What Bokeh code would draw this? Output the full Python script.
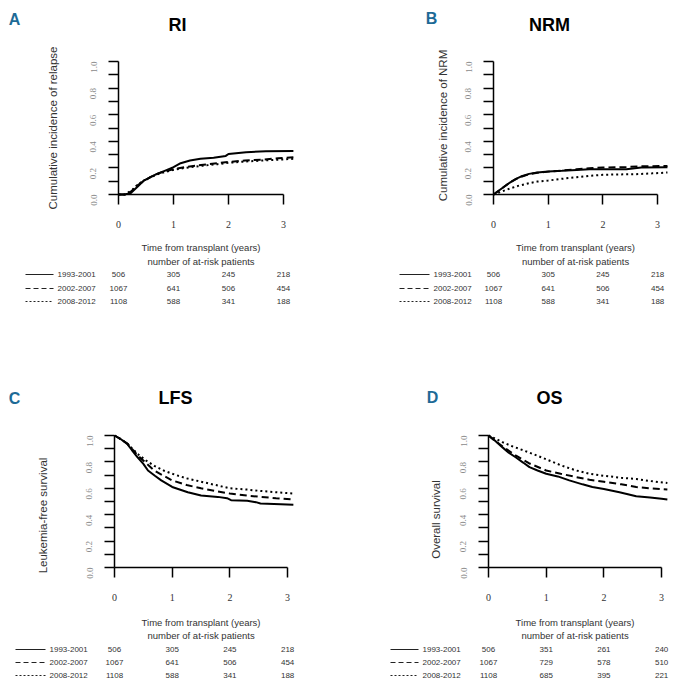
from math import pi
from bokeh.plotting import figure
from bokeh.models import Range1d, FixedTicker, Label, PrintfTickFormatter, ColumnDataSource
from bokeh.core.properties import value
from bokeh.layouts import column, row
from bokeh.embed import file_html
from bokeh.resources import INLINE

# ---------------- data ----------------
periods = ["1993-2001", "2002-2007", "2008-2012"]
x_ticks = [0, 1, 2, 3]
y_ticks = [0.0, 0.2, 0.4, 0.6, 0.8, 1.0]
y_minor = [0.1, 0.3, 0.5, 0.7, 0.9]

# RI: cumulative incidence of relapse
ri_t_1 = [0, 0.1, 0.22, 0.35, 0.46, 0.58, 0.70, 0.85, 1.0, 1.13, 1.3, 1.49, 1.73, 1.95, 2.0, 2.32, 2.68, 3.18]
ri_v_1 = [0, 0, 0.01, 0.06, 0.105, 0.13, 0.155, 0.18, 0.205, 0.235, 0.255, 0.268, 0.276, 0.29, 0.305, 0.318, 0.325, 0.327]
ri_t_2 = [0, 0.15, 0.25, 0.35, 0.46, 0.58, 0.70, 0.85, 1.0, 1.2, 1.5, 1.8, 2.0, 2.3, 2.6, 2.9, 3.18]
ri_v_2 = [0, 0, 0.03, 0.07, 0.1, 0.13, 0.155, 0.175, 0.19, 0.205, 0.222, 0.235, 0.245, 0.255, 0.262, 0.272, 0.28]
ri_t_3 = [0, 0.12, 0.25, 0.35, 0.46, 0.58, 0.70, 0.85, 1.0, 1.2, 1.5, 1.8, 2.0, 2.3, 2.6, 2.9, 3.18]
ri_v_3 = [0, 0, 0.035, 0.075, 0.105, 0.13, 0.15, 0.17, 0.185, 0.2, 0.215, 0.228, 0.238, 0.248, 0.255, 0.262, 0.268]

# NRM: cumulative incidence of non-relapse mortality
nrm_t_1 = [0, 0.1, 0.2, 0.3, 0.41, 0.5, 0.65, 0.8, 1.0, 1.25, 1.52, 1.75, 2.0, 2.43, 2.7, 3.18]
nrm_v_1 = [0, 0.03, 0.06, 0.09, 0.118, 0.135, 0.155, 0.165, 0.173, 0.178, 0.185, 0.19, 0.19, 0.19, 0.203, 0.205]
nrm_t_2 = [0, 0.1, 0.2, 0.3, 0.41, 0.5, 0.65, 0.8, 1.0, 1.25, 1.52, 1.75, 2.0, 2.43, 2.7, 3.18]
nrm_v_2 = [0, 0.03, 0.06, 0.09, 0.115, 0.132, 0.152, 0.163, 0.172, 0.18, 0.19, 0.197, 0.203, 0.207, 0.212, 0.215]
nrm_t_3 = [0, 0.1, 0.29, 0.45, 0.65, 0.8, 1.0, 1.25, 1.52, 1.75, 2.0, 2.3, 2.6, 2.9, 3.18]
nrm_v_3 = [0, 0.015, 0.043, 0.065, 0.085, 0.097, 0.105, 0.118, 0.13, 0.14, 0.148, 0.151, 0.153, 0.159, 0.165]

# LFS: leukemia-free survival
lfs_t_1 = [0, 0.1, 0.22, 0.3, 0.40, 0.5, 0.58, 0.7, 0.81, 1.0, 1.27, 1.5, 1.79, 1.95, 2.02, 2.3, 2.45, 2.53, 2.88, 3.1]
lfs_v_1 = [1.0, 0.975, 0.937, 0.89, 0.835, 0.785, 0.735, 0.695, 0.66, 0.61, 0.57, 0.545, 0.535, 0.525, 0.51, 0.505, 0.495, 0.485, 0.48, 0.475]
lfs_t_2 = [0, 0.1, 0.22, 0.4, 0.55, 0.69, 0.85, 1.0, 1.25, 1.5, 1.75, 2.0, 2.3, 2.53, 2.8, 3.1]
lfs_v_2 = [1.0, 0.975, 0.94, 0.85, 0.79, 0.735, 0.695, 0.66, 0.625, 0.6, 0.58, 0.56, 0.545, 0.535, 0.525, 0.515]
lfs_t_3 = [0, 0.1, 0.22, 0.4, 0.55, 0.69, 0.85, 1.0, 1.25, 1.5, 1.75, 2.0, 2.3, 2.53, 2.8, 3.1]
lfs_v_3 = [1.0, 0.975, 0.94, 0.86, 0.81, 0.77, 0.735, 0.71, 0.675, 0.65, 0.625, 0.6, 0.59, 0.58, 0.57, 0.56]

# OS: overall survival
os_t_1 = [0, 0.1, 0.243, 0.35, 0.47, 0.6, 0.71, 0.85, 1.0, 1.2, 1.4, 1.63, 1.8, 2.0, 2.27, 2.56, 2.8, 3.0, 3.1]
os_v_1 = [1.0, 0.965, 0.91, 0.87, 0.835, 0.795, 0.76, 0.735, 0.71, 0.69, 0.66, 0.63, 0.61, 0.595, 0.57, 0.54, 0.53, 0.52, 0.515]
os_t_2 = [0, 0.1, 0.25, 0.47, 0.7, 1.0, 1.25, 1.52, 1.75, 2.0, 2.3, 2.56, 2.8, 3.1]
os_v_2 = [1.0, 0.965, 0.915, 0.85, 0.79, 0.735, 0.71, 0.685, 0.665, 0.65, 0.63, 0.61, 0.6, 0.59]
os_t_3 = [0, 0.1, 0.24, 0.4, 0.59, 0.8, 1.0, 1.25, 1.52, 1.75, 2.0, 2.3, 2.56, 2.8, 3.1]
os_v_3 = [1.0, 0.98, 0.95, 0.92, 0.89, 0.855, 0.82, 0.775, 0.735, 0.71, 0.695, 0.68, 0.67, 0.655, 0.64]

# numbers at risk at years 0,1,2,3
risk_abc_1 = [506, 305, 245, 218]
risk_abc_2 = [1067, 641, 506, 454]
risk_abc_3 = [1108, 588, 341, 188]
risk_d_1 = [506, 351, 261, 240]
risk_d_2 = [1067, 729, 578, 510]
risk_d_3 = [1108, 685, 395, 221]

# ---------------- styles ----------------
SANS = "Liberation Sans"
SERIF = "Liberation Serif"
LETTER_COLOR = "#1d6a96"
TEXT_COLOR = "#333333"
dashes = ["solid", "7 4", "2 3"]
leg_dashes = ["solid", "5 3", "2 2"]


def make_panel(spec):
    fx, fy, w, h = spec["fig"]
    fl, ft, fb, ppx = spec["frame"]
    ppy = fb - ft

    def X(px):
        return (px - fl) / ppx

    def Y(py):
        return (fb - py) / ppy

    p = figure(width=w, height=h,
               x_range=Range1d(X(fx), X(fx + w)), y_range=Range1d(Y(fy + h), Y(fy)),
               output_backend="svg", toolbar_location=None,
               min_border_left=0, min_border_top=0, min_border_right=0, min_border_bottom=0)
    p.outline_line_color = None
    p.grid.visible = False

    xa = p.xaxis[0]
    xa.fixed_location = 0
    xa.ticker = FixedTicker(ticks=x_ticks)
    xa.bounds = (0, 3)
    xa.axis_line_width = 1.5
    xa.major_tick_line_width = 1.5
    xa.major_tick_out = 10
    xa.major_tick_in = 0
    xa.minor_tick_out = 0
    xa.minor_tick_in = 0
    xa.major_label_text_font = SERIF
    xa.major_label_text_font_size = "10px"
    xa.major_label_text_color = TEXT_COLOR
    xa.major_label_standoff = 16

    ya = p.yaxis[0]
    ya.fixed_location = 0
    ya.ticker = FixedTicker(ticks=y_ticks, minor_ticks=y_minor)
    ya.formatter = PrintfTickFormatter(format="%.1f")
    ya.bounds = (0, 1)
    ya.axis_line_width = 1.5
    ya.major_tick_line_width = 1.5
    ya.minor_tick_line_width = 1.5
    ya.major_tick_out = 10
    ya.major_tick_in = 0
    ya.minor_tick_out = 10
    ya.minor_tick_in = 0
    ya.major_label_orientation = pi / 2
    ya.major_label_text_font = SERIF
    ya.major_label_text_font_size = "9px"
    ya.major_label_text_color = "#8a8a8a"
    ya.major_label_standoff = 15

    for k in range(3):
        p.line(spec["t"][k], spec["v"][k], line_color="black", line_width=2,
               line_dash=dashes[k])

    # panel letter, title and y title
    lx, ly = spec["letter"]
    p.add_layout(Label(x=X(lx), y=Y(ly), text=spec["name"], text_align="center",
                       text_baseline="middle", text_font=SANS, text_font_style="bold",
                       text_font_size="16px", text_color=LETTER_COLOR))
    tx, ty = spec["title_pos"]
    p.add_layout(Label(x=X(tx), y=Y(ty), text=spec["title"], text_align="center",
                       text_baseline="middle", text_font=SANS,
                       text_font_style="bold", text_font_size="18px", text_color="black"))
    yx, yy = spec["ylab_pos"]
    p.add_layout(Label(x=X(yx), y=Y(yy), text=spec["ylab"], angle=pi / 2,
                       text_align="center", text_baseline="middle", text_font=SANS,
                       text_font_size="11.5px", text_color=TEXT_COLOR))

    # x title and at-risk table
    offs = spec["offs"]
    p.add_layout(Label(x=1.5, y=Y(fb + offs[0]), text="Time from transplant (years)",
                       text_align="center", text_baseline="middle", text_font=SANS,
                       text_font_size="9.5px", text_color=TEXT_COLOR))
    p.add_layout(Label(x=1.5, y=Y(fb + offs[1]), text="number of at-risk patients",
                       text_align="center", text_baseline="middle", text_font=SANS,
                       text_font_size="9.5px", text_color=TEXT_COLOR))
    l0, l1, ltx = spec["leg_x"]
    for k in range(3):
        yk = Y(fb + offs[2 + k])
        p.line([X(l0), X(l1)], [yk, yk], line_color="#222222", line_width=1.2,
               line_dash=leg_dashes[k])
        p.add_layout(Label(x=X(ltx), y=yk, text=periods[k], text_align="left",
                           text_baseline="middle", text_font=SANS,
                           text_font_size="8px", text_color=TEXT_COLOR))
        src = ColumnDataSource(dict(x=x_ticks, y=[yk] * len(x_ticks),
                                    t=[str(n) for n in spec["risk"][k]]))
        p.text(x="x", y="y", text="t", source=src, text_align="center",
               text_baseline="middle", text_font=value(SANS),
               text_font_size="8px", text_color=TEXT_COLOR)
    return p


specs = [
    dict(name="A", title="RI", ylab="Cumulative incidence of relapse",
         fig=(0, 0, 342, 340), frame=(118, 61, 194, 55.0),
         letter=(14, 18.5), title_pos=(177, 24), ylab_pos=(52, 127.5),
         offs=(53, 67, 80, 94, 107), leg_x=(25, 53, 57),
         t=[ri_t_1, ri_t_2, ri_t_3], v=[ri_v_1, ri_v_2, ri_v_3],
         risk=[risk_abc_1, risk_abc_2, risk_abc_3]),
    dict(name="B", title="NRM", ylab="Cumulative incidence of NRM",
         fig=(342, 0, 342, 340), frame=(493, 61, 194, 54.7),
         letter=(431, 18), title_pos=(549, 24), ylab_pos=(442, 125),
         offs=(53, 67, 80, 94, 107), leg_x=(399, 429, 433),
         t=[nrm_t_1, nrm_t_2, nrm_t_3], v=[nrm_v_1, nrm_v_2, nrm_v_3],
         risk=[risk_abc_1, risk_abc_2, risk_abc_3]),
    dict(name="C", title="LFS", ylab="Leukemia-free survival",
         fig=(0, 340, 342, 349), frame=(114, 435, 567, 57.7),
         letter=(14, 398), title_pos=(175, 397.5), ylab_pos=(42, 515),
         offs=(55, 68, 82, 95, 108), leg_x=(15, 45, 49),
         t=[lfs_t_1, lfs_t_2, lfs_t_3], v=[lfs_v_1, lfs_v_2, lfs_v_3],
         risk=[risk_abc_1, risk_abc_2, risk_abc_3]),
    dict(name="D", title="OS", ylab="Overall survival",
         fig=(342, 340, 342, 349), frame=(488, 435, 567, 57.7),
         letter=(432, 397), title_pos=(549, 397), ylab_pos=(435, 519),
         offs=(55, 68, 82, 95, 108), leg_x=(390, 418, 422),
         t=[os_t_1, os_t_2, os_t_3], v=[os_v_1, os_v_2, os_v_3],
         risk=[risk_d_1, risk_d_2, risk_d_3]),
]

panels = [make_panel(s) for s in specs]
layout = column(row(panels[0], panels[1]), row(panels[2], panels[3]))

open("out.html", "w").write(file_html(layout, INLINE))
